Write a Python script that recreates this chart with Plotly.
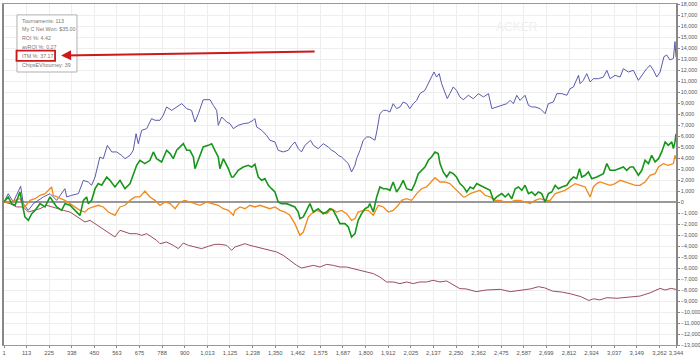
import plotly.graph_objects as go

# ---------------- data ----------------
x_ticks = [1, 113, 225, 338, 450, 563, 675, 788, 900, 1013, 1125, 1238, 1350, 1462,
           1575, 1687, 1800, 1912, 2025, 2137, 2250, 2362, 2475, 2587, 2699, 2812,
           2924, 3037, 3149, 3262, 3344]

blue_x = [1, 22, 47, 84, 97, 122, 147, 197, 230, 263, 304, 313, 338, 371, 396, 420, 437, 454,
          478, 495, 515, 537, 561, 586, 603, 628, 644, 658, 669, 686, 711, 735, 752, 777, 793,
          810, 835, 860, 885, 910, 934, 951, 968, 992, 1026, 1042, 1059, 1067, 1084, 1109, 1125,
          1142, 1166, 1191, 1216, 1241, 1249, 1258, 1283, 1307, 1324, 1349, 1365, 1390, 1415,
          1432, 1448, 1465, 1481, 1498, 1515, 1526, 1540, 1564, 1589, 1614, 1631, 1647, 1664,
          1680, 1697, 1714, 1730, 1747, 1755, 1772, 1788, 1805, 1821, 1846, 1855, 1871, 1888,
          1904, 1921, 1937, 1954, 1971, 1987, 2004, 2020, 2037, 2054, 2070, 2095, 2112, 2128,
          2140, 2153, 2166, 2178, 2194, 2206, 2219, 2236, 2252, 2269, 2286, 2311, 2336, 2361,
          2386, 2411, 2428, 2452, 2477, 2502, 2519, 2535, 2552, 2568, 2593, 2610, 2626, 2643,
          2668, 2693, 2709, 2734, 2751, 2776, 2801, 2817, 2834, 2859, 2867, 2883, 2900, 2917,
          2933, 2958, 2983, 3000, 3016, 3041, 3066, 3082, 3107, 3132, 3157, 3174, 3198, 3215,
          3232, 3248, 3265, 3284, 3298, 3314, 3331, 3339, 3344]
blue_y = [0, 760, 0, 1430, -150, -760, -150, 460, 760, 150, 1210, 460, 610, 760, 1970, 1820,
          1520, 2270, 4090, 3940, 5150, 4550, 4550, 4240, 3940, 4240, 4700, 6210, 5300, 6520,
          6670, 7580, 7430, 7430, 7880, 8640, 8330, 8640, 8940, 8490, 8330, 7270, 8030, 9300,
          9300, 8790, 8330, 6970, 7730, 7270, 7120, 6670, 6970, 7120, 7180, 7430, 7580, 6820,
          6520, 6060, 5610, 5460, 4700, 4550, 4700, 5150, 5460, 4850, 4550, 5150, 5460, 5610,
          5150, 4850, 5300, 5000, 4700, 4550, 4240, 4090, 3790, 3490, 2730, 3340, 3940, 4700,
          5610, 5910, 5910, 5610, 6370, 8030, 8330, 8330, 8180, 8940, 8490, 8640, 9090, 8940,
          8490, 8940, 9240, 9850, 10150, 10760, 11360, 11820, 11360, 11670, 10760, 10000, 9400,
          9850, 10460, 10150, 9550, 9300, 9700, 9390, 9850, 9550, 9850, 8490, 8640, 8790, 8940,
          9240, 8940, 9700, 9240, 9700, 8790, 8640, 8640, 8490, 8030, 8940, 9090, 9850, 9850,
          9700, 10300, 10460, 11520, 10760, 11060, 11670, 10910, 11210, 11210, 11360, 11970,
          11210, 11520, 11360, 12120, 11820, 11970, 11060, 11520, 12120, 12430, 11970, 11360,
          11820, 13210, 13360, 12910, 13060, 14580, 13150]

green_x = [1, 22, 39, 56, 80, 97, 105, 122, 139, 155, 180, 205, 230, 246, 263, 288, 304, 329,
           346, 379, 396, 412, 420, 437, 454, 470, 487, 512, 528, 553, 578, 603, 628, 653, 661,
           677, 702, 727, 744, 760, 785, 810, 827, 843, 860, 893, 910, 926, 943, 951, 968, 992,
           1017, 1034, 1050, 1067, 1075, 1092, 1117, 1133, 1142, 1166, 1191, 1216, 1233, 1249,
           1266, 1283, 1299, 1316, 1332, 1349, 1365, 1382, 1407, 1432, 1448, 1465, 1473, 1490,
           1515, 1523, 1540, 1564, 1589, 1606, 1622, 1639, 1656, 1672, 1697, 1714, 1730, 1747,
           1763, 1780, 1797, 1813, 1821, 1838, 1855, 1871, 1888, 1904, 1921, 1937, 1954, 1971,
           1987, 2004, 2029, 2045, 2062, 2078, 2095, 2112, 2128, 2145, 2161, 2170, 2186, 2203,
           2219, 2236, 2252, 2269, 2287, 2303, 2320, 2336, 2353, 2369, 2386, 2403, 2419, 2436,
           2452, 2477, 2494, 2510, 2527, 2544, 2560, 2577, 2593, 2610, 2626, 2643, 2660, 2676,
           2693, 2709, 2726, 2743, 2759, 2776, 2801, 2817, 2834, 2850, 2864, 2875, 2892, 2908,
           2925, 2950, 2966, 2983, 3000, 3016, 3041, 3058, 3082, 3099, 3116, 3132, 3157, 3174,
           3190, 3207, 3223, 3240, 3257, 3273, 3290, 3306, 3323, 3331, 3339, 3344]
green_y = [0, 460, -150, -300, 910, -760, -1360, -1670, -1060, -760, -150, -450, 460, 0, -450,
           -760, -150, -300, -610, -1210, 150, 460, -150, 150, 1210, 1670, 1520, 2270, 1970,
           1370, 1970, 1210, 1670, 2880, 3340, 3790, 3490, 3790, 4550, 3940, 3640, 4700, 4400,
           3940, 4700, 5300, 4700, 4700, 4090, 3030, 3790, 5000, 5150, 5300, 4700, 4090, 3030,
           3940, 3030, 2270, 2270, 2880, 3180, 3340, 3180, 3430, 2270, 1970, 2120, 1520, 1210,
           910, 0, -150, -150, -300, -450, -910, -1510, -1360, -450, -150, -910, -610, -1060,
           -910, -610, -760, -1360, -1970, -1970, -2270, -3180, -2880, -1670, -1060, -610,
           -450, -150, -910, 460, 1370, 1210, 1210, 1060, 1820, 910, 1370, 1970, 1210, 1060,
           1670, 2580, 2880, 3180, 3790, 4090, 4550, 4400, 3490, 2730, 2270, 2730, 2580, 2270,
           1670, 1370, 910, 1370, 1210, 1670, 1520, 1370, 1210, 1060, 150, 460, 760, 460, 760,
           300, 1210, 1370, 1060, 1520, 760, 910, 610, 910, 760, 0, 760, 910, 1520, 1210, 1370,
           1520, 1970, 2270, 2120, 3030, 2270, 2430, 2730, 2120, 2270, 2430, 2580, 3490, 2880,
           2880, 3030, 3180, 2880, 3180, 3180, 2430, 2880, 3790, 3490, 4240, 3640, 3940, 4550,
           5460, 5150, 5460, 4850, 5460, 6200]

orange_x = [1, 31, 56, 80, 105, 130, 155, 180, 205, 238, 246, 263, 279, 304, 329, 354, 379,
            404, 420, 445, 470, 495, 520, 553, 578, 603, 628, 653, 677, 702, 727, 752, 777,
            802, 827, 852, 876, 901, 926, 951, 976, 1009, 1042, 1067, 1092, 1117, 1142, 1150,
            1175, 1200, 1224, 1249, 1274, 1299, 1324, 1349, 1374, 1399, 1423, 1448, 1473, 1490,
            1506, 1515, 1531, 1556, 1581, 1606, 1631, 1656, 1680, 1705, 1730, 1747, 1763, 1788,
            1813, 1838, 1863, 1888, 1913, 1937, 1962, 1979, 2004, 2029, 2054, 2078, 2103, 2128,
            2145, 2170, 2194, 2219, 2252, 2286, 2295, 2320, 2345, 2369, 2394, 2419, 2444, 2469,
            2494, 2519, 2544, 2568, 2593, 2618, 2643, 2668, 2693, 2718, 2743, 2767, 2792, 2817,
            2842, 2867, 2892, 2917, 2933, 2950, 2966, 2991, 3016, 3041, 3066, 3091, 3116, 3141,
            3165, 3190, 3215, 3240, 3257, 3281, 3306, 3331, 3339, 3344]
orange_y = [0, 0, 150, 300, -450, 150, 300, 610, 760, 1370, 610, 460, 300, 150, -150, -450,
            -760, -910, -610, -450, -300, -450, -910, -1210, -450, -300, 150, 460, 460, 1000,
            460, 150, -300, 0, -150, -610, 0, 150, 0, -150, -300, 0, -150, -300, -610, -760,
            -1210, -760, -450, -610, -300, -450, -300, -450, -610, -450, -760, -910, -1210,
            -1970, -3030, -2730, -1970, -1360, -1060, -760, -910, -1060, -610, -910, -760,
            -1060, -1670, -1510, -910, -760, -760, -1210, -300, -450, -910, -760, -300, 150,
            300, 150, 760, 1210, 1370, 1820, 2210, 1820, 1820, 1670, 1060, 460, 460, 760, 910,
            1060, 610, 460, 150, 150, 0, 0, 150, 150, 0, -150, 150, 300, 150, 150, 760, 910,
            1060, 1370, 1670, 1520, 1370, 460, 1370, 1670, 1820, 1670, 1520, 1670, 1970, 1820,
            1670, 1520, 1520, 1820, 2430, 2580, 3180, 3490, 3340, 3490, 4240, 3900]

maroon_x = [1, 31, 64, 97, 122, 147, 180, 213, 246, 271, 296, 329, 354, 379, 404, 429, 454,
            478, 503, 528, 553, 578, 603, 628, 661, 686, 711, 735, 760, 777, 810, 843, 868, 893,
            918, 951, 984, 1017, 1050, 1075, 1109, 1133, 1150, 1175, 1200, 1224, 1258, 1291,
            1324, 1357, 1390, 1423, 1457, 1481, 1506, 1540, 1573, 1606, 1639, 1672, 1705, 1739,
            1772, 1805, 1838, 1871, 1904, 1937, 1971, 2004, 2037, 2070, 2103, 2136, 2170, 2203,
            2236, 2269, 2300, 2350, 2400, 2469, 2520, 2570, 2620, 2660, 2690, 2730, 2780, 2820,
            2870, 2910, 2935, 2965, 3000, 3050, 3100, 3165, 3215, 3240, 3265, 3290, 3320, 3344]
maroon_y = [0, -150, -450, -450, -910, -760, -610, -300, -450, -610, -760, -910, -1210, -1510,
            -1820, -1670, -1970, -2270, -2570, -2880, -3180, -2570, -2730, -2880, -2880, -3030,
            -2880, -3180, -3480, -3790, -3640, -3940, -4240, -3730, -3940, -4090, -4240, -4030,
            -3850, -3850, -3940, -4390, -4090, -3940, -3790, -3940, -4090, -4240, -4390, -4540,
            -4850, -5300, -5760, -6000, -5910, -5760, -5910, -5670, -5760, -5910, -5910, -6060,
            -6210, -6360, -6510, -6820, -7270, -7270, -7420, -7270, -7420, -7270, -7270, -7120,
            -7270, -7180, -7570, -7880, -7900, -8150, -8000, -7940, -8150, -8050, -7900, -7700,
            -7800, -8100, -8200, -8350, -8600, -8950, -8800, -8900, -8700, -8750, -8650, -8550,
            -8260, -8050, -7850, -8000, -7850, -7950]

stats_lines = ["Tournaments: 113", "My C Net Won: $35.00", "ROI %: 4.42",
               "avROI %: 0.27", "ITM %: 37.17", "ChipsEV/tourney: 39"]
watermark = "ACKER"

# ---------------- figure ----------------
fig = go.Figure()
fig.add_trace(go.Scatter(x=maroon_x, y=maroon_y, mode="lines",
                         line=dict(color="#9b4d5c", width=1), showlegend=False))
fig.add_trace(go.Scatter(x=blue_x, y=blue_y, mode="lines",
                         line=dict(color="#5a5aae", width=1), showlegend=False))
fig.add_trace(go.Scatter(x=orange_x, y=orange_y, mode="lines",
                         line=dict(color="#f08a1c", width=1.3), showlegend=False))
fig.add_trace(go.Scatter(x=green_x, y=green_y, mode="lines",
                         line=dict(color="#17961b", width=1.6), showlegend=False))

fig.update_layout(
    width=700, height=356,
    margin=dict(l=4, r=24, t=4, b=11),
    paper_bgcolor="white", plot_bgcolor="white",
    font=dict(family="Liberation Sans, Arial, sans-serif", size=6, color="#555"),
    xaxis=dict(range=[1, 3344], tickvals=x_ticks, tickformat=",", tickangle=0,
               showgrid=True, gridcolor="#eeeeee", gridwidth=1, zeroline=False,
               showline=True, linecolor="#999", linewidth=1, mirror=True, ticks="outside",
               ticklen=2, tickcolor="#888", tickfont=dict(size=5.8, color="#555"),
               automargin=False),
    yaxis=dict(range=[-13000, 18000], dtick=1000, tickformat=",", side="right",
               showgrid=True, gridcolor="#eeeeee", gridwidth=1, zeroline=True,
               zerolinecolor="#999", zerolinewidth=2, showline=True, linecolor="#888",
               linewidth=1.5, mirror=True, ticks="outside", ticklen=2, tickcolor="#888",
               tickfont=dict(size=5.4, color="#555"), automargin=False),
)

# stats box background + border
fig.add_shape(type="rect", xref="paper", yref="paper", x0=0.0193, x1=0.1086,
              y0=0.8006, y1=0.968, layer="above", fillcolor="white",
              line=dict(color="#b0b0b0", width=1))
# red highlight box around the ITM line
fig.add_shape(type="rect", xref="paper", yref="paper", x0=0.0186, x1=0.0760,
              y0=0.833, y1=0.863, layer="above", line=dict(color="#cc1a1a", width=1.8))
# stats text lines
line_y = [0.951, 0.926, 0.899, 0.875, 0.848, 0.821]
for txt, yy in zip(stats_lines, line_y):
    fig.add_annotation(xref="paper", yref="paper", x=0.0231, y=yy, xanchor="left",
                       yanchor="middle", showarrow=False, text=txt,
                       font=dict(size=5.3, color="#777"))
# red arrow
fig.add_annotation(xref="paper", yref="paper", x=0.0850, y=0.849, ax=255, ay=-4,
                   text="", showarrow=True, arrowhead=2, arrowsize=1,
                   arrowwidth=2, arrowcolor="#cc1a1a")
# faint watermark
fig.add_annotation(xref="paper", yref="paper", x=0.798, y=0.959, showarrow=False,
                   text=watermark, font=dict(size=12, color="#efefef"))

fig.write_html("out.html", config={"displayModeBar": False},
               post_script="document.body.style.margin='0';document.body.style.overflow='hidden';")
